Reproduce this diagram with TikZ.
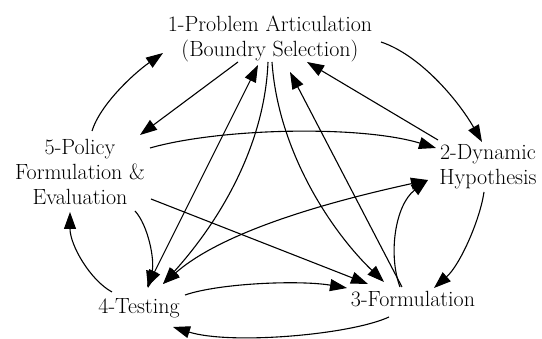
\documentclass[tikz,border=0pt]{standalone}
\usepackage{times}
\usetikzlibrary{arrows.meta,calc}
\begin{document}
\begin{tikzpicture}[x=1pt,y=-1pt,
  lbl/.style={inner sep=0pt, align=center, font=\rmfamily\fontsize{22}{25}\selectfont},
  edge/.style={line width=1.1pt, -{Triangle[length=17pt,width=12pt]}},
  both/.style={line width=1.1pt, {Triangle[length=17pt,width=12pt]}-{Triangle[length=17pt,width=12pt]}}]
\useasboundingbox (0,0) rectangle (542,339);
\node[lbl] (n1) at (270,39) {1-Problem Articulation\\(Boundry Selection)};
\node[lbl] (n2) at (488,167) {2-Dynamic\\Hypothesis};
\node[lbl] (n3) at (413,299) {3-Formulation};
\node[lbl] (n4) at (139,308) {4-Testing};
\node[lbl] (n5) at (80,172) {5-Policy\\Formulation \&\\Evaluation};
% 5 <-> 1
\draw[edge] ($(n5)+(12,-41)$) .. controls (100,105) and (133,74) .. ($(n1)+(-107,14)$);
\draw[edge] ($(n1)+(-32,23)$) -- ($(n5)+(60,-37)$);
% 1 <-> 2
\draw[edge] ($(n1)+(111,3)$) .. controls (420,55) and (458,100) .. ($(n2)+(-6,-25)$);
\draw[edge] ($(n2)+(-50,-27)$) -- ($(n1)+(37,23)$);
% 5 -> 2, 5 -> 3
\draw[edge] ($(n5)+(70,-24)$) .. controls (220,128) and (360,125) .. ($(n2)+(-52,-19)$);
\draw[edge] ($(n5)+(71,27)$) -- ($(n3)+(-45,-15)$);
% 5 <-> 4
\draw[edge] ($(n5)+(55,39)$) .. controls (148,225) and (155,260) .. ($(n4)+(9,-20)$);
\draw[edge] ($(n4)+(-27,-16)$) .. controls (90,280) and (70,245) .. ($(n5)+(-10,40)$);
% 4 <-> 1
\draw[both] ($(n4)+(8,-21)$) -- ($(n1)+(-12,26)$);
\draw[edge] ($(n1)+(-2,23)$) .. controls (265,140) and (225,215) .. ($(n4)+(24,-24)$);
% 1 <-> 3
\draw[edge] ($(n1)+(2,23)$) .. controls (278,150) and (330,230) .. ($(n3)+(-29,-17)$);
\draw[edge] ($(n3)+(-11,-12)$) -- ($(n1)+(20,33)$);
% 3 <-> 2
\draw[edge] ($(n3)+(-13,-12)$) .. controls (388,255) and (395,205) .. ($(n2)+(-60,13)$);
\draw[edge] ($(n2)+(-4,25)$) .. controls (480,220) and (460,265) .. ($(n3)+(21,-11)$);
% 2 <-> 4
\draw[both] ($(n2)+(-60,13)$) .. controls (360,195) and (230,225) .. ($(n4)+(24,-24)$);
% 4 <-> 3
\draw[edge] ($(n4)+(46,-13)$) .. controls (220,283) and (300,280) .. ($(n3)+(-66,-11)$);
\draw[edge] ($(n3)+(-24,18)$) .. controls (350,335) and (230,345) .. ($(n4)+(34,19)$);
\end{tikzpicture}
\end{document}
